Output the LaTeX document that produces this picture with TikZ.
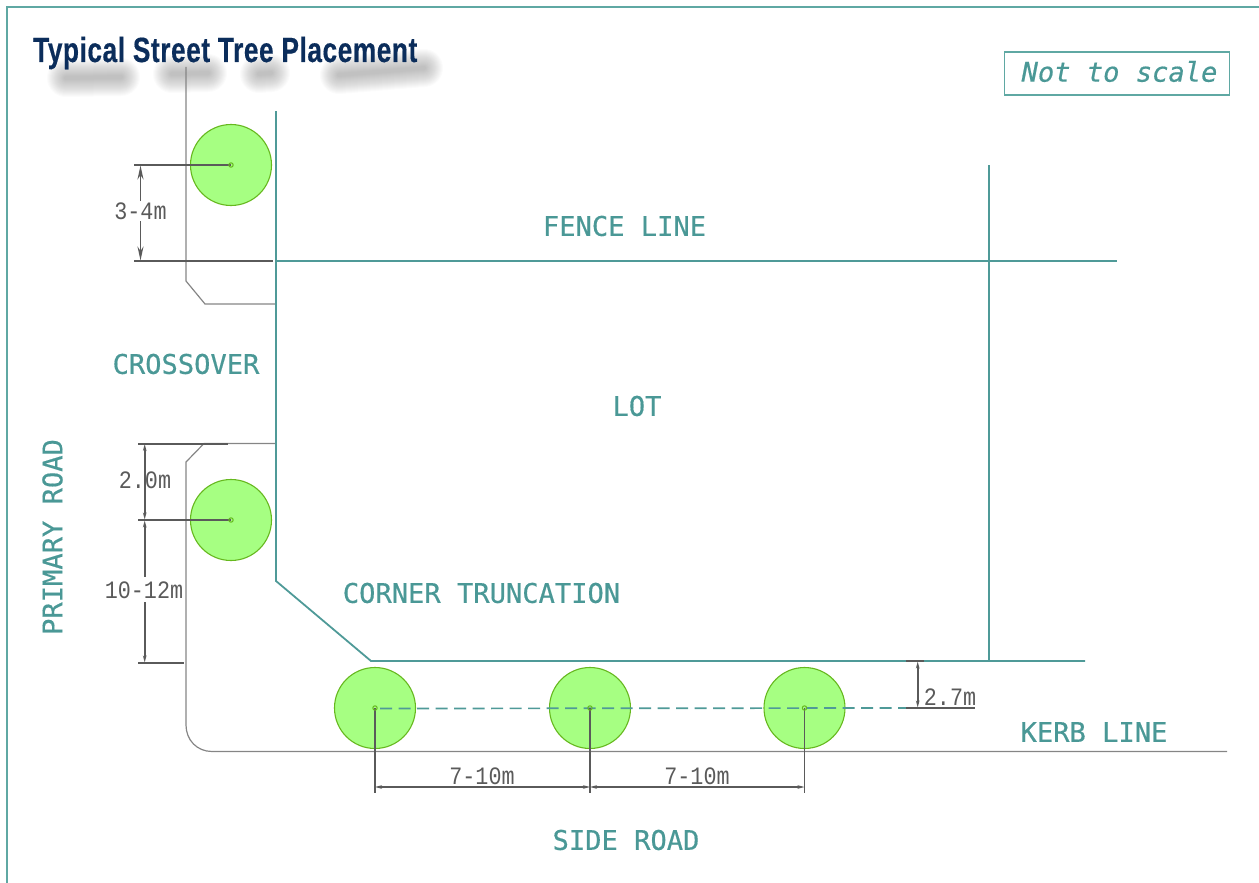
\documentclass[tikz,border=0pt]{standalone}
\usepackage{fontspec}
\usetikzlibrary{arrows.meta}
\newfontfamily\lblfont[FakeBold=0.5]{DejaVu Sans Mono}
\newfontfamily\dimfont[FakeStretch=0.87]{Liberation Mono}
\newfontfamily\ttlfont[FakeStretch=0.75,FakeBold=0.4,LetterSpace=1.6]{Liberation Sans Bold}
\definecolor{frameteal}{HTML}{5FA8A3}
\definecolor{lineteal}{HTML}{4F9A98}
\definecolor{lbteal}{HTML}{4A9896}
\definecolor{roadgray}{HTML}{858585}
\definecolor{dimgray}{HTML}{5A5A5A}
\definecolor{treefill}{HTML}{A6FF82}
\definecolor{treeedge}{HTML}{66B81E}
\definecolor{titleblue}{HTML}{0B2D5B}
\tikzset{
  framel/.style={draw=frameteal,line width=2pt},
  teall/.style={draw=lineteal,line width=1.8pt},
  roadl/.style={draw=roadgray,line width=1.2pt},
  diml/.style={draw=dimgray,line width=1.7pt},
  dimarrow/.style={diml,-{Stealth[length=14pt,width=6pt]}},
  dimarrows/.style={diml,{Stealth[length=7pt,width=3.6pt]}-{Stealth[length=7pt,width=3.6pt]}},
  dashl/.style={draw=lineteal,line width=1.7pt,dash pattern=on 12pt off 6.5pt},
  tree/.style={circle,draw=treeedge,fill=treefill,line width=1.1pt,minimum size=81pt,inner sep=0pt},
  treedot/.style={circle,draw=treeedge,line width=1pt,minimum size=4.4pt,inner sep=0pt},
  lbl/.style={text=lbteal,inner sep=0pt,font=\lblfont\fontsize{27.1}{30}\selectfont},
  dimtxt/.style={text=dimgray,inner sep=0pt,font=\dimfont\fontsize{25}{28}\selectfont},
  blob/.style={draw=black,line cap=round,opacity=0.017}
}
\begin{document}
\begin{tikzpicture}[x=1pt,y=-1pt]
\useasboundingbox (0,0) rectangle (1259,883);
% frame
\coordinate (fa) at (6.5,883); \coordinate (fb) at (6.5,7.5); \coordinate (fc) at (1259,7.5);
\draw[framel] (fa) -- (fb) -- (fc);
% blurred title shadow
\foreach \w in {38,36,34,32,30,28,26,24,22,20,18,16,14,12,10,8,6,4}{
  \draw[blob,line width=\w pt] (66,78) -- (121,77);
  \draw[blob,line width=\w pt] (172,74) -- (208,73);
  \draw[blob,line width=\w pt] (259,74) -- (271,73);
  \draw[blob,line width=\w pt] (339,75) -- (424,68);
}
% title
\node[anchor=base west,inner sep=0pt,text=titleblue,font=\ttlfont\fontsize{35}{38}\selectfont] (title) at (33,62) {Typical Street Tree Placement};
% not to scale
\node[draw=frameteal,line width=1.8pt,minimum width=225pt,minimum height=43pt,inner sep=0pt] (nts) at (1117,73.5) {};
\node[inner sep=0pt,text=lbteal,font=\lblfont\itshape\fontsize{27.1}{30}\selectfont] (ntstext) at (1119.5,71.5) {Not to scale};
% road edges
\coordinate (r1) at (186,67); \coordinate (r2) at (186,281); \coordinate (r3) at (205,304); \coordinate (r4) at (275,304);
\draw[roadl] (r1) -- (r2) -- (r3) -- (r4);
\coordinate (r5) at (275,443.5); \coordinate (r6) at (204,443.5); \coordinate (r7) at (186,462); \coordinate (r8) at (186,725); \coordinate (r9) at (212,751.5); \coordinate (r10) at (1227,751.5);
\draw[roadl] (r5) -- (r6) -- (r7) -- (r8) .. controls (186,740) and (197,751.5) .. (r9) -- (r10);
% trees
\node[tree] (t1) at (231,165) {};
\node[tree] (t2) at (231,520) {};
\node[tree] (t3) at (375,708) {};
\node[tree] (t4) at (590,708) {};
\node[tree] (t5) at (804.5,708) {};
% teal lines
\coordinate (a1) at (276,111); \coordinate (a2) at (276,581); \coordinate (a3) at (371,661); \coordinate (a4) at (1085,661);
\draw[teall,line join=miter] (a1) -- (a2) -- (a3) -- (a4);
\coordinate (f1) at (276,261); \coordinate (f2) at (1117,261);
\draw[teall] (f1) -- (f2);
\coordinate (v1) at (989,165); \coordinate (v2) at (989,661);
\draw[teall] (v1) -- (v2);
% dashed set-out line
\coordinate (d2) at (906,708);
\draw[dashl] (t3.center) ++(5,0.5) -- (d2);
% dimension: 3-4m
\coordinate (e1) at (134,165); \coordinate (e2) at (134,261); \coordinate (e3) at (273,261);
\draw[diml] (e1) -- (t1.center);
\draw[diml,line width=2pt] (e2) -- (e3);
\node[dimtxt] (d34) at (140.5,211) {3-4m};
\draw[dimarrow] (140.5,201) -- (140.5,165.5);
\draw[dimarrow] (140.5,221) -- (140.5,260.5);
% dimension: 2.0m and 10-12m
\coordinate (g1) at (138,443.5); \coordinate (g2) at (228,443.5); \coordinate (g3) at (138,520); \coordinate (g4) at (138,663); \coordinate (g5) at (184,663);
\draw[diml,line width=2pt] (g1) -- (g2);
\draw[diml] (g3) -- (t2.center);
\draw[diml,line width=2pt] (g4) -- (g5);
\draw[dimarrows] (144.7,444) -- (144.7,519.5);
\draw[diml,{Stealth[length=7pt,width=3.6pt]}-] (144.7,520.5) -- (144.7,577);
\draw[diml,-{Stealth[length=7pt,width=3.6pt]}] (144.7,602) -- (144.7,662.5);
\node[dimtxt] (d20) at (145,480) {2.0m};
\node[dimtxt] (d10) at (144,590.5) {10-12m};
% dimension: 7-10m
\coordinate (h1) at (375,793); \coordinate (h2) at (590,793); \coordinate (h3) at (804.5,793);
\draw[diml] (t3.center) -- (h1);
\draw[diml] (t4.center) -- (h2);
\draw[diml] (t5.center) -- (h3);
\coordinate (k1) at (375,787); \coordinate (k2) at (590,787); \coordinate (k3) at (804.5,787);
\draw[dimarrows] (k1) -- (k2);
\draw[dimarrows] (k2) -- (k3);
\node[dimtxt] (d71) at (482,776.5) {7-10m};
\node[dimtxt] (d72) at (697,776.5) {7-10m};
% dimension: 2.7m
\coordinate (m1) at (906,661); \coordinate (m2) at (924,661); \coordinate (m3) at (906,708); \coordinate (m4) at (975,708);
\draw[diml] (m1) -- (m2);
\draw[diml] (m3) -- (m4);
\draw[dimarrows] (917.7,661.5) -- (917.7,707.5);
\node[dimtxt] (d27) at (950,697.5) {2.7m};
% tree centre marks
\foreach \c/\n in {t1/p1,t2/p2,t3/p3,t4/p4,t5/p5}{
  \node[treedot] (\n) at (\c.center) {};
}
% labels
\node[lbl] (fence) at (624.5,226) {FENCE LINE};
\node[lbl] (cross) at (186,364) {CROSSOVER};
\node[lbl] (lot) at (637,406) {LOT};
\node[lbl] (corner) at (481.5,593) {CORNER TRUNCATION};
\node[lbl] (kerb) at (1094,732) {KERB LINE};
\node[lbl] (side) at (626,840) {SIDE ROAD};
\node[lbl,rotate=90] (prim) at (52.5,537) {PRIMARY ROAD};
\end{tikzpicture}
\end{document}
